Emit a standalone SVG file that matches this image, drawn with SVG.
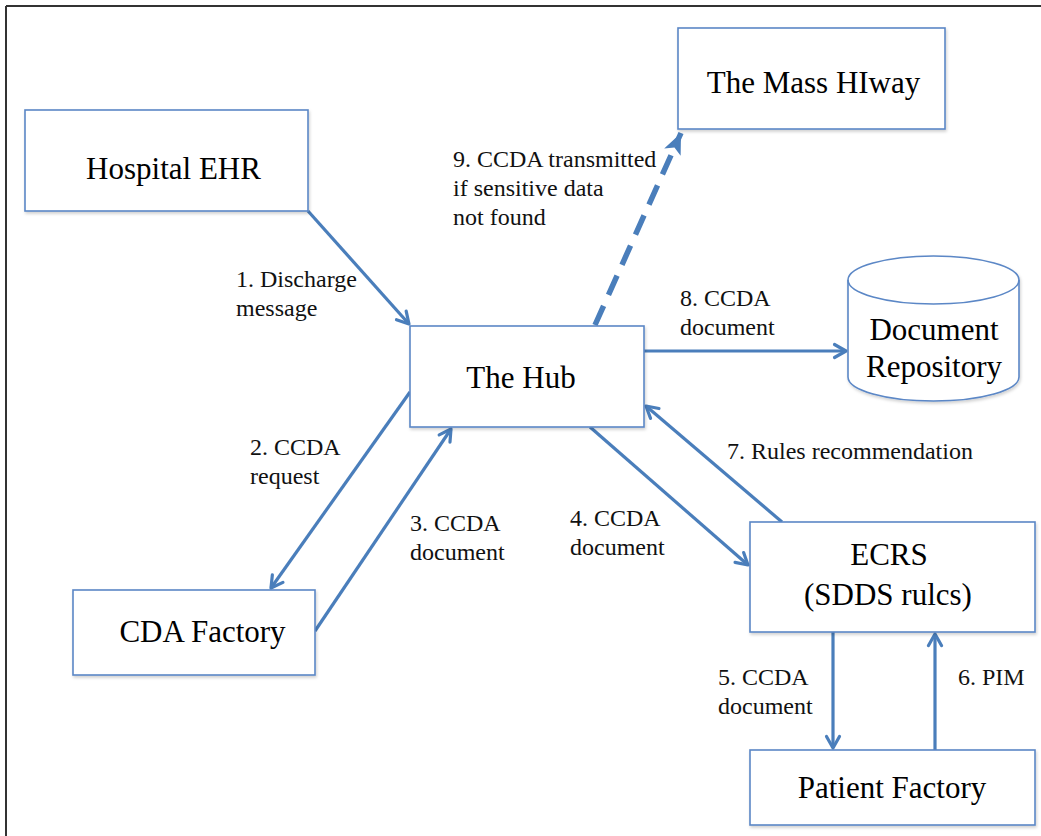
<svg xmlns="http://www.w3.org/2000/svg" width="1041" height="836" viewBox="0 0 1041 836">
<style>
.box{fill:#fff;stroke:#5b87c6;stroke-width:1.6;filter:url(#sh)}
.big{font-family:"Liberation Serif","Times New Roman",serif;font-size:31px;fill:#000;text-anchor:middle}
.lbl{font-family:"Liberation Serif","Times New Roman",serif;font-size:24px;fill:#111}
.con{fill:none;stroke:#4a7ebb;stroke-width:3.2;marker-end:url(#arr)}
.dash{fill:none;stroke:#4a7ebb;stroke-width:5.5;stroke-dasharray:21 12;marker-end:url(#arrf)}
.frame{stroke:#333;stroke-width:2;fill:none}
</style>
<defs>
<filter id="sh" x="-10%" y="-10%" width="120%" height="130%">
<feDropShadow dx="1" dy="2" stdDeviation="1.5" flood-color="#000" flood-opacity="0.18"/>
</filter>
<marker id="arr" markerUnits="userSpaceOnUse" viewBox="0 0 18 18" markerWidth="18" markerHeight="18" refX="15.5" refY="9" orient="auto">
<path d="M4,2.5 L15.5,9 L4,15.5" fill="none" stroke="#4a7ebb" stroke-width="3.2" stroke-linecap="round" stroke-linejoin="round"/>
</marker>
<marker id="arrf" markerUnits="userSpaceOnUse" viewBox="0 0 24 24" markerWidth="24" markerHeight="24" refX="21" refY="12" orient="auto">
<path d="M0,3 L21,12 L0,21 L5,12 Z" fill="#4a7ebb"/>
</marker>
</defs>

<g id="frame">
<line class="frame" x1="6" y1="6" x2="1041" y2="6"/>
<line class="frame" x1="6" y1="6" x2="6" y2="836"/>
</g>

<g id="connectors">
<line class="con" x1="308" y1="211" x2="409" y2="324"/>
<line class="con" x1="410" y1="392" x2="271" y2="588"/>
<line class="con" x1="315" y1="631" x2="451" y2="429"/>
<line class="con" x1="590" y1="427" x2="748" y2="565"/>
<line class="con" x1="782" y1="522" x2="646" y2="406"/>
<line class="con" x1="644" y1="351" x2="846" y2="351"/>
<line class="dash" x1="595" y1="325" x2="681" y2="133"/>
<line class="con" x1="833" y1="632" x2="833" y2="748"/>
<line class="con" x1="935" y1="750" x2="935" y2="634"/>
</g>

<g id="labels">
<text class="lbl" x="236" y="287">1. Discharge</text>
<text class="lbl" x="236" y="316">message</text>
<text class="lbl" x="250" y="455">2. CCDA</text>
<text class="lbl" x="250" y="484">request</text>
<text class="lbl" x="410" y="531">3. CCDA</text>
<text class="lbl" x="410" y="560">document</text>
<text class="lbl" x="570" y="526">4. CCDA</text>
<text class="lbl" x="570" y="555">document</text>
<text class="lbl" x="718" y="685">5. CCDA</text>
<text class="lbl" x="718" y="714">document</text>
<text class="lbl" x="958" y="685">6. PIM</text>
<text class="lbl" x="727" y="459">7. Rules recommendation</text>
<text class="lbl" x="680" y="306">8. CCDA</text>
<text class="lbl" x="680" y="335">document</text>
<text class="lbl" x="453" y="167">9. CCDA transmitted</text>
<text class="lbl" x="453" y="196">if sensitive data</text>
<text class="lbl" x="453" y="225">not found</text>
</g>

<g id="hospital-ehr">
<rect class="box" x="25" y="110" width="283" height="101"/>
<text class="big" x="173.5" y="179">Hospital EHR</text>
</g>

<g id="mass-hiway">
<rect class="box" x="678" y="28" width="267" height="101"/>
<text class="big" x="813.5" y="93">The Mass HIway</text>
</g>

<g id="hub">
<rect class="box" x="410" y="326" width="234" height="101"/>
<text class="big" x="521" y="388">The Hub</text>
</g>

<g id="document-repository">
<path class="box" d="M848,280 L848,377 A85.5,24 0 0 0 1019,377 L1019,280 A85.5,24 0 0 0 848,280 Z"/>
<path d="M848,280 A85.5,24 0 0 0 1019,280" fill="none" stroke="#5b87c6" stroke-width="1.6"/>
<text class="big" x="934" y="340">Document</text>
<text class="big" x="934" y="377">Repository</text>
</g>

<g id="ecrs">
<rect class="box" x="750" y="522" width="285" height="110"/>
<text class="big" x="889" y="565">ECRS</text>
<text class="big" x="888" y="605">(SDDS rulcs)</text>
</g>

<g id="patient-factory">
<rect class="box" x="750" y="750" width="285" height="75"/>
<text class="big" x="892" y="798">Patient Factory</text>
</g>

<g id="cda-factory">
<rect class="box" x="73" y="590" width="242" height="85"/>
<text class="big" x="202.5" y="642">CDA Factory</text>
</g>
</svg>
